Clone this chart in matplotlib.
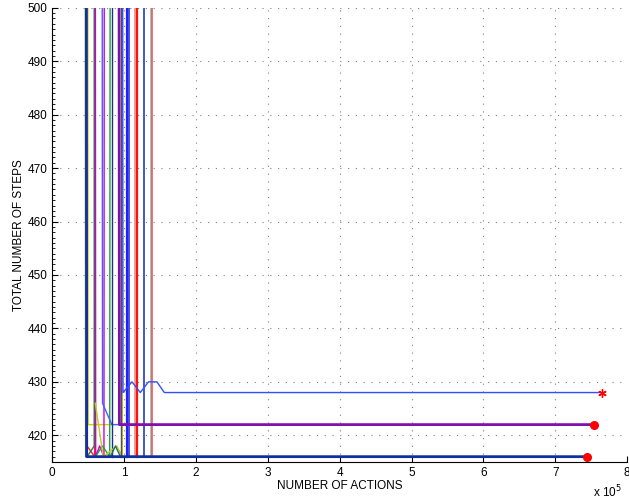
import matplotlib
matplotlib.use('Agg')
from matplotlib import pyplot as plt
from matplotlib.ticker import MultipleLocator

HIGH = 520  # first episodes go far above the visible range

# x in units of 1e5 actions, y = steps per episode
runs_x = [
    [0.475, 0.48, 7.445],
    [0.93, 0.935, 7.54],
    [0.98, 0.985, 1.11, 1.226, 1.34, 1.457, 1.56, 7.645],
    [0.46, 0.465, 0.48],
    [0.495, 0.50, 0.83],
    [0.485, 0.59, 0.595],
    [0.485, 0.585, 0.585],
    [0.60, 0.605, 0.66, 0.72, 0.725],
    [0.60, 0.70, 0.80, 0.807],
    [0.695, 0.70, 0.83, 0.98],
    [0.835, 0.835],
    [0.60, 0.71, 0.90, 0.975, 0.975],
    [0.81, 0.88, 0.95, 1.37],
    [0.96, 0.96],
    [1.045, 1.045],
    [1.07, 1.07],
    [1.155, 1.155],
    [1.185, 1.185],
    [1.275, 1.275],
    [1.37, 1.37],
    [1.39, 1.39],
]
runs_y = [
    [HIGH, 416, 416],
    [HIGH, 422, 422],
    [HIGH, 428, 430, 428, 430, 430, 428, 428],
    [HIGH, 416, 416],
    [HIGH, 422, 422],
    [418, 416, HIGH],
    [416, 418, HIGH],
    [HIGH, 416, 418, 416, HIGH],
    [416, 418, 416, HIGH],
    [HIGH, 426, 422, 422],
    [HIGH, 416],
    [426, 416, 418, 416, HIGH],
    [416, 418, 416, 416],
    [416, HIGH],
    [416, HIGH],
    [416, HIGH],
    [416, HIGH],
    [416, HIGH],
    [416, HIGH],
    [416, HIGH],
    [416, HIGH],
]
colors = ['#1030a0', '#8010b0', '#3050ff', '#8c8c20', '#d0d000', '#ff2020',
          '#208040', '#d000d0', '#20a040', '#4060ff', '#203080', '#c8c820',
          '#207060', '#505050', '#2020ff', '#3030e0', '#f09080', '#ff1010',
          '#2040c0', '#70c8c8', '#ff5050']
widths = [2, 2, 1] + [1] * 11 + [1.6, 1.2, 1.2, 1.6, 1.2, 1.2, 1.2]

# final points of the three long runs
end_x = [7.445, 7.54, 7.645]
end_y = [416, 422, 428]
end_marks = ['o', 'o', (6, 2, 0)]


def main():
    plt.rcParams['font.family'] = ['Liberation Sans', 'DejaVu Sans']
    fig = plt.figure(figsize=(6.29, 5.03), dpi=100)
    ax = fig.add_axes([0.083, 0.0815, 0.914, 0.903])
    # draw short runs first so the long ones stay on top
    order = list(range(3, len(runs_x))) + [0, 1, 2]
    for i in order:
        ax.plot([v * 1e5 for v in runs_x[i]], runs_y[i],
                color=colors[i], lw=widths[i])
    for x, y, m in zip(end_x, end_y, end_marks):
        ax.plot(x * 1e5, y, marker=m, color='red', ms=5.5 if m == 'o' else 6,
                mec='red', mew=1)
    ax.set_xlim(0, 8e5)
    ax.set_ylim(415, 500)
    ax.set_xticks([i * 1e5 for i in range(9)])
    ax.set_xticklabels([str(i) for i in range(9)])
    ax.set_yticks(range(420, 501, 10))
    ax.yaxis.set_minor_locator(MultipleLocator(1))
    ax.tick_params(direction='in', labelsize=8.5, length=4, width=0.8)
    ax.tick_params(which='minor', direction='in', length=2, width=0.6)
    ax.spines['top'].set_visible(False)
    ax.spines['right'].set_visible(False)
    ax.grid(True, linestyle=(0, (1, 6)), color='#808080', lw=0.8)
    ax.set_axisbelow(True)
    ax.set_xlabel('NUMBER OF ACTIONS', fontsize=8.5, labelpad=1)
    ax.set_ylabel('TOTAL NUMBER OF STEPS', fontsize=8.5, labelpad=2)
    fig.text(0.966, 0.012, r'x 10$^5$', fontsize=8.5, ha='center')
    fig.savefig('out.png', dpi=100)


if __name__ == '__main__':
    main()
